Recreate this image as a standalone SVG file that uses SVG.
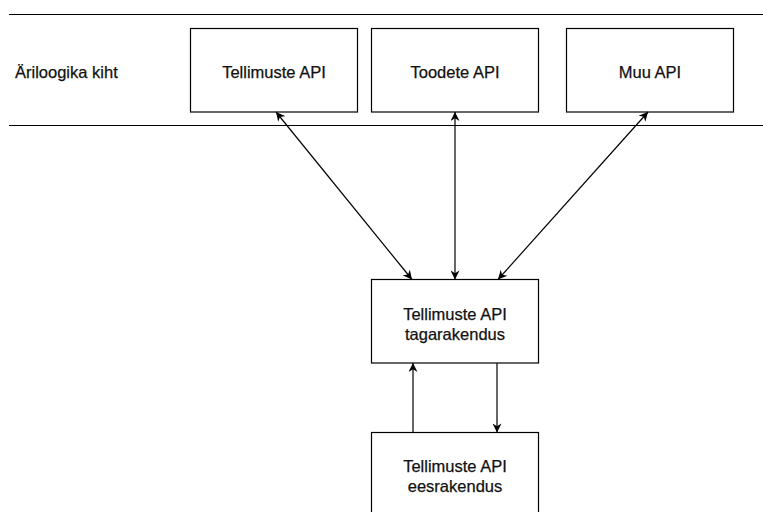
<svg xmlns="http://www.w3.org/2000/svg" width="763" height="512" viewBox="0 0 763 512">
  <style>
    .box { fill: #ffffff; stroke: #000000; stroke-width: 1.2; }
    .lane { stroke: #000000; stroke-width: 1.2; fill: none; }
    .link { stroke: #000000; stroke-width: 1.2; fill: none; marker-end: url(#arrow); }
    .both { marker-start: url(#arrow); }
    text { font-family: "Liberation Sans", Arial, sans-serif; font-size: 16.5px; fill: #111111; stroke: #111111; stroke-width: 0.25; }
    .c { text-anchor: middle; }
  </style>
  <defs>
    <!-- classic notched arrowhead, reused at both ends where needed -->
    <marker id="arrow" viewBox="0 0 10 10" refX="10" refY="5" markerWidth="10" markerHeight="9" markerUnits="userSpaceOnUse" orient="auto-start-reverse">
      <path d="M0,0 L10,5 L0,10 L3,5 z" fill="#000000"/>
    </marker>
  </defs>

  <rect width="763" height="512" fill="#ffffff"/>

  <!-- layer band -->
  <g id="layer">
    <line class="lane" x1="9" y1="14.5" x2="763" y2="14.5"/>
    <line class="lane" x1="9" y1="125.5" x2="763" y2="125.5"/>
    <text x="15" y="78">Äriloogika kiht</text>
  </g>

  <g id="tellimuste-api">
    <rect class="box" x="190.5" y="28.5" width="167" height="83.5"/>
    <text class="c" x="274" y="78">Tellimuste API</text>
  </g>

  <g id="toodete-api">
    <rect class="box" x="371.5" y="28.5" width="167" height="83.5"/>
    <text class="c" x="455" y="78">Toodete API</text>
  </g>

  <g id="muu-api">
    <rect class="box" x="566.5" y="28.5" width="167" height="83.5"/>
    <text class="c" x="650" y="78">Muu API</text>
  </g>

  <g id="tagarakendus">
    <rect class="box" x="371.5" y="279.5" width="167" height="83.5"/>
    <text class="c" x="455" y="320">Tellimuste API</text>
    <text class="c" x="455" y="340">tagarakendus</text>
  </g>

  <g id="eesrakendus">
    <rect class="box" x="371.5" y="432.5" width="167" height="83.5"/>
    <text class="c" x="455" y="472">Tellimuste API</text>
    <text class="c" x="455" y="492">eesrakendus</text>
  </g>

  <g id="connectors">
    <line class="link both" x1="276" y1="112" x2="412" y2="279.5"/>
    <line class="link both" x1="455" y1="112" x2="455" y2="279.5"/>
    <line class="link both" x1="648" y1="112" x2="498" y2="279.5"/>
    <line class="link" x1="413" y1="432.5" x2="413" y2="363"/>
    <line class="link" x1="497" y1="363" x2="497" y2="432.5"/>
  </g>
</svg>
